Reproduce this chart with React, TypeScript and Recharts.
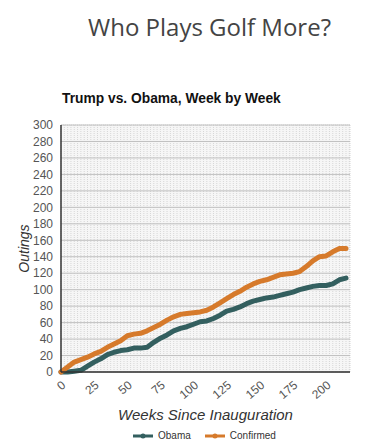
import React from 'react';
import { LineChart, Line, XAxis, YAxis, CartesianGrid } from 'recharts';

const weeks = [0,5,10,15,20,25,30,35,40,45,50,55,60,65,70,75,80,85,90,95,100,105,110,115,120,125,130,135,140,145,150,155,160,165,170,175,180,185,190,195,200,205,210,215];
const obama = [0,0,1,2,7,12,16,21,24,26,27,29,29,30,36,41,45,50,53,55,58,61,62,65,69,74,76,79,83,86,88,90,91,93,95,97,100,102,104,105,105,107,112,114];
const confirmed = [0,6,12,15,18,22,25,30,34,38,44,46,47,50,54,58,63,67,70,71,72,73,75,79,84,89,94,98,103,107,110,112,115,118,119,120,122,128,135,140,141,146,150,150];

const xTicks = [0,25,50,75,100,125,150,175,200];
const yTicks = [0,20,40,60,80,100,120,140,160,180,200,220,240,260,280,300];
const minorX = Array.from({ length: 88 }, (_, i) => i * 2.5);
const minorY = Array.from({ length: 76 }, (_, i) => i * 4);

const data = weeks.map((w, i) => ({ week: w, obama: obama[i], confirmed: confirmed[i] }));

const OBAMA = '#335f5f';
const CONF = '#d67a2b';

const LegendItem = ({ color, label }: { color: string; label: string }) => (
  <div style={{ display: 'flex', alignItems: 'center', marginRight: 14 }}>
    <svg width={20} height={8} style={{ marginRight: 5 }}>
      <line x1={0} y1={4} x2={20} y2={4} stroke={color} strokeWidth={3} />
      <circle cx={10} cy={4} r={2.5} fill={color} />
    </svg>
    <span>{label}</span>
  </div>
);

export default function App() {
  return (
    <div style={{ position: 'absolute', left: 0, top: 0, width: 385, height: 447, background: '#fff', fontFamily: 'Arial, "Liberation Sans", sans-serif' }}>
      <div style={{ position: 'absolute', left: 0, width: 385, top: 10, textAlign: 'center', paddingLeft: 34, boxSizing: 'border-box', fontFamily: '"Open Sans", sans-serif', fontSize: 24, color: '#444', lineHeight: '34px' }}>
        Who Plays Golf More?
      </div>
      <div style={{ position: 'absolute', left: 62, top: 90, fontSize: 13.8, fontWeight: 'bold', color: '#111', lineHeight: '18px' }}>
        Trump vs. Obama, Week by Week
      </div>
      <div style={{ position: 'absolute', left: 0, top: 0 }}>
        <LineChart width={385} height={447} data={data} margin={{ top: 125, right: 35, left: 0, bottom: 23 }}>
          <XAxis xAxisId="minor" dataKey="week" type="number" domain={[0, 218]} ticks={minorX} interval={0} hide />
          <YAxis yAxisId="minor" type="number" domain={[0, 300]} ticks={minorY} interval={0} hide />
          <CartesianGrid xAxisId="minor" yAxisId="minor" stroke="#d6d6d6" strokeWidth={1} strokeDasharray="1 1" fill="#f6f6f6" />
          <CartesianGrid vertical={false} stroke="#c0c0c0" strokeWidth={1} />
          <XAxis
            dataKey="week"
            type="number"
            domain={[0, 218]}
            ticks={xTicks}
            interval={0}
            height={52}
            tickLine={false}
            axisLine={{ stroke: '#333', strokeWidth: 1.5 }}
            angle={-40}
            textAnchor="end"
            tick={{ fill: '#555', fontSize: 12, fontFamily: 'Arial, "Liberation Sans", sans-serif' }}
            label={{ value: 'Weeks Since Inauguration', position: 'insideBottom', offset: 4, style: { fill: '#333', fontSize: 15, fontStyle: 'italic', fontFamily: 'Arial, "Liberation Sans", sans-serif' } }}
          />
          <YAxis
            type="number"
            domain={[0, 300]}
            ticks={yTicks}
            interval={0}
            width={61}
            tickLine={false}
            axisLine={{ stroke: '#333', strokeWidth: 1.5 }}
            tick={{ fill: '#555', fontSize: 12, fontFamily: 'Arial, "Liberation Sans", sans-serif' }}
            label={{ value: 'Outings', angle: -90, position: 'insideLeft', offset: 24, style: { textAnchor: 'middle', fill: '#333', fontSize: 14, fontStyle: 'italic', fontFamily: 'Arial, "Liberation Sans", sans-serif' } }}
          />
          <Line type="linear" dataKey="obama" stroke={OBAMA} strokeWidth={5} dot={false} isAnimationActive={false} strokeLinejoin="round" strokeLinecap="round" />
          <Line type="linear" dataKey="confirmed" stroke={CONF} strokeWidth={5} dot={false} isAnimationActive={false} strokeLinejoin="round" strokeLinecap="round" />
        </LineChart>
      </div>
      <div style={{ position: 'absolute', left: 133, top: 429, display: 'flex', fontSize: 10, color: '#333', lineHeight: '14px' }}>
        <LegendItem color={OBAMA} label="Obama" />
        <LegendItem color={CONF} label="Confirmed" />
      </div>
    </div>
  );
}
